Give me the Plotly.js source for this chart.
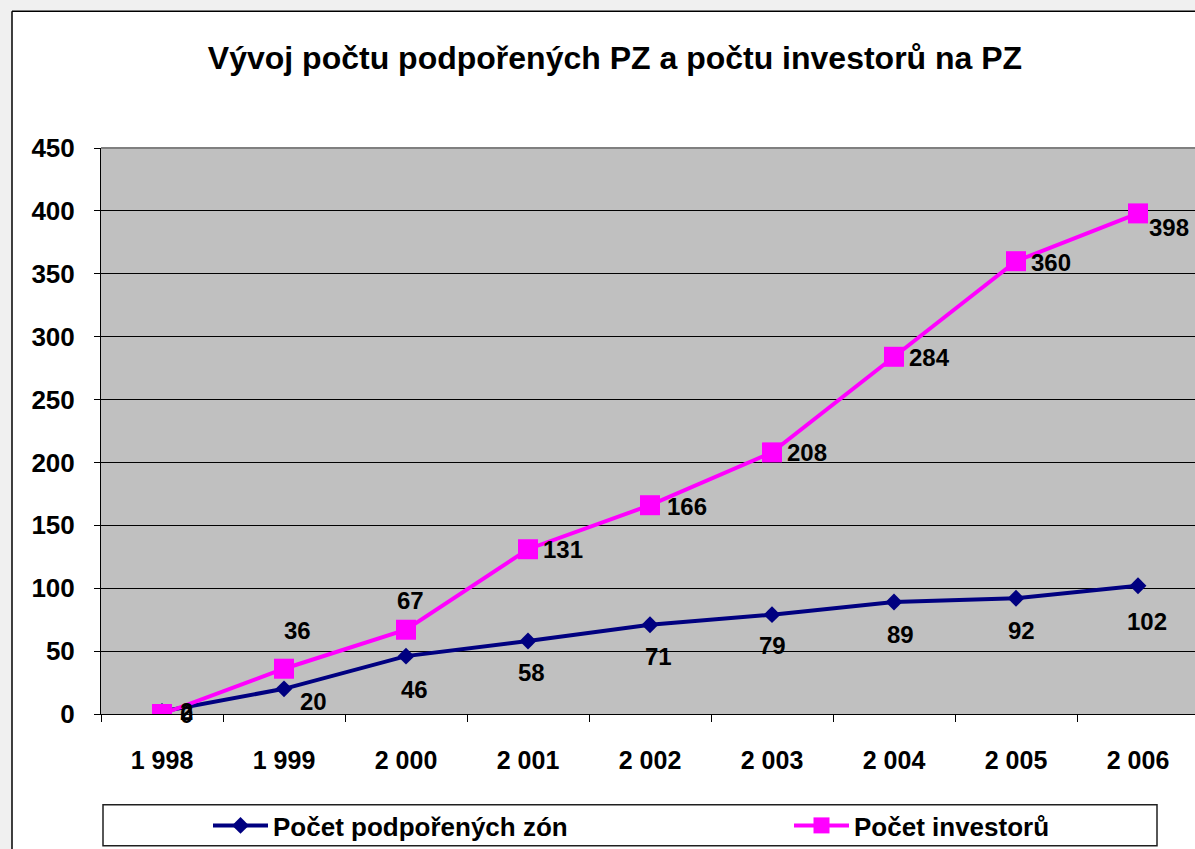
<!DOCTYPE html>
<html>
<head>
<meta charset="utf-8">
<script src="https://cdn.plot.ly/plotly-3.0.1.min.js"></script>
<style>html,body{margin:0;padding:0;background:#fff;}#chart{width:1195px;height:849px;}</style>
</head>
<body>
<div id="chart"></div>
<script>
// ---- data ----
const years = ['1 998', '1 999', '2 000', '2 001', '2 002', '2 003', '2 004', '2 005', '2 006'];
const zoneCounts = [2, 20, 46, 58, 71, 79, 89, 92, 102];
const investorCounts = [0, 36, 67, 131, 166, 208, 284, 360, 398];
const seriesNames = ['Počet podpořených zón', 'Počet investorů'];
const chartTitle = 'Vývoj počtu podpořených PZ a počtu investorů na PZ';
const yTicks = [0, 50, 100, 150, 200, 250, 300, 350, 400, 450];

// ---- label offsets (screen px) ----
const zoneLabelDx = [24, 29, 8, 3, 8, 0, 6, 5, 9];
const zoneLabelDy = [0, 13, 33, 31, 32, 31, 32, 32, 36];
const invLabelDx = [24, 13, 4, 35, 37, 35, 35, 35, 31];
const invLabelDy = [0, -38, -29, 0, 1, 0, 1, 1, 14];

const FONT = 'Liberation Sans, Arial, sans-serif';
const W = 1195, H = 849;
const L = 101, T = 148, B = 134, R = 0;
const pw = W - L - R, ph = H - T - B;
const px2x = p => (p - L) / pw;
const py2y = p => (H - B - p) / ph;

const traces = [
  {
    x: years, y: zoneCounts, name: seriesNames[0], type: 'scatter', mode: 'lines+markers',
    line: {color: '#000080', width: 4},
    marker: {symbol: 'diamond', size: 13, color: '#000080'},
    legendwidth: 511, hoverinfo: 'x+y'
  },
  {
    x: years, y: investorCounts, name: seriesNames[1], type: 'scatter', mode: 'lines+markers',
    line: {color: '#ff00ff', width: 4},
    marker: {symbol: 'square', size: 20, color: '#ff00ff'},
    legendwidth: 210, hoverinfo: 'x+y'
  }
];

const annotations = [];
years.forEach((yr, i) => {
  annotations.push({x: yr, y: zoneCounts[i], xref: 'x', yref: 'y', text: String(zoneCounts[i]),
    showarrow: false, xanchor: 'center', yanchor: 'middle', xshift: zoneLabelDx[i], yshift: -zoneLabelDy[i],
    font: {family: FONT, size: 24, color: '#000', weight: 'bold'}});
});
years.forEach((yr, i) => {
  annotations.push({x: yr, y: investorCounts[i], xref: 'x', yref: 'y', text: String(investorCounts[i]),
    showarrow: false, xanchor: 'center', yanchor: 'middle', xshift: invLabelDx[i], yshift: -invLabelDy[i],
    font: {family: FONT, size: 24, color: '#000', weight: 'bold'}});
});

const shapes = [
  // light gray surround outside the chart frame
  {type: 'rect', xref: 'paper', yref: 'paper', x0: px2x(-5), x1: px2x(12), y0: py2y(H + 5), y1: py2y(-5),
   fillcolor: '#f0f0f0', line: {width: 0}, layer: 'above'},
  {type: 'rect', xref: 'paper', yref: 'paper', x0: px2x(-5), x1: px2x(W + 5), y0: py2y(11), y1: py2y(-5),
   fillcolor: '#f0f0f0', line: {width: 0}, layer: 'above'},
  // chart frame lines
  {type: 'line', xref: 'paper', yref: 'paper', x0: px2x(12), x1: px2x(12), y0: py2y(11), y1: py2y(H + 5),
   line: {color: '#000', width: 1.5}, layer: 'above'},
  {type: 'line', xref: 'paper', yref: 'paper', x0: px2x(12), x1: px2x(W + 5), y0: py2y(11), y1: py2y(11),
   line: {color: '#000', width: 1.5}, layer: 'above'},
  // plot area top border
  {type: 'line', xref: 'paper', yref: 'paper', x0: 0, x1: 1, y0: 1, y1: 1,
   line: {color: '#808080', width: 2}, layer: 'above'},
  // legend box
  {type: 'rect', xref: 'paper', yref: 'paper', x0: px2x(103), x1: px2x(1157), y0: py2y(847), y1: py2y(806),
   fillcolor: 'rgba(0,0,0,0)', line: {color: '#202020', width: 1.5}, layer: 'above'}
];

const layout = {
  width: W, height: H,
  margin: {l: L, r: R, t: T, b: B, pad: 0},
  paper_bgcolor: '#ffffff',
  plot_bgcolor: '#c0c0c0',
  font: {family: FONT, color: '#000'},
  title: {text: chartTitle, font: {family: FONT, size: 32, color: '#000', weight: 'bold'},
          xref: 'paper', x: px2x(615), xanchor: 'center', yref: 'container', y: 1 - 58 / H, yanchor: 'middle'},
  xaxis: {
    type: 'category', range: [-0.5, -0.5 + pw / 122], tickson: 'boundaries',
    showgrid: false, zeroline: false, showline: true, linecolor: '#000', linewidth: 1,
    ticks: 'outside', ticklen: 7, tickcolor: '#000', tickwidth: 1,
    tickfont: {family: FONT, size: 25, color: '#000', weight: 'bold'},
    ticklabelstandoff: 24, fixedrange: true
  },
  yaxis: {
    range: [0, 450], tickvals: yTicks, ticktext: yTicks.map(String),
    showgrid: true, gridcolor: '#000', gridwidth: 1, zeroline: false,
    showline: true, linecolor: '#000', linewidth: 1,
    ticks: 'outside', ticklen: 6, tickcolor: '#000',
    tickfont: {family: FONT, size: 26, color: '#000', weight: 'bold'},
    ticklabelstandoff: 14, fixedrange: true
  },
  showlegend: true,
  legend: {
    orientation: 'h', x: px2x(208), xanchor: 'left', y: py2y(827), yanchor: 'middle',
    bgcolor: 'rgba(0,0,0,0)', borderwidth: 0, itemwidth: 55,
    font: {family: FONT, size: 26, color: '#000', weight: 'bold'}
  },
  shapes: shapes,
  annotations: annotations
};

Plotly.newPlot('chart', traces, layout, {displayModeBar: false, responsive: false});
</script>
</body>
</html>
